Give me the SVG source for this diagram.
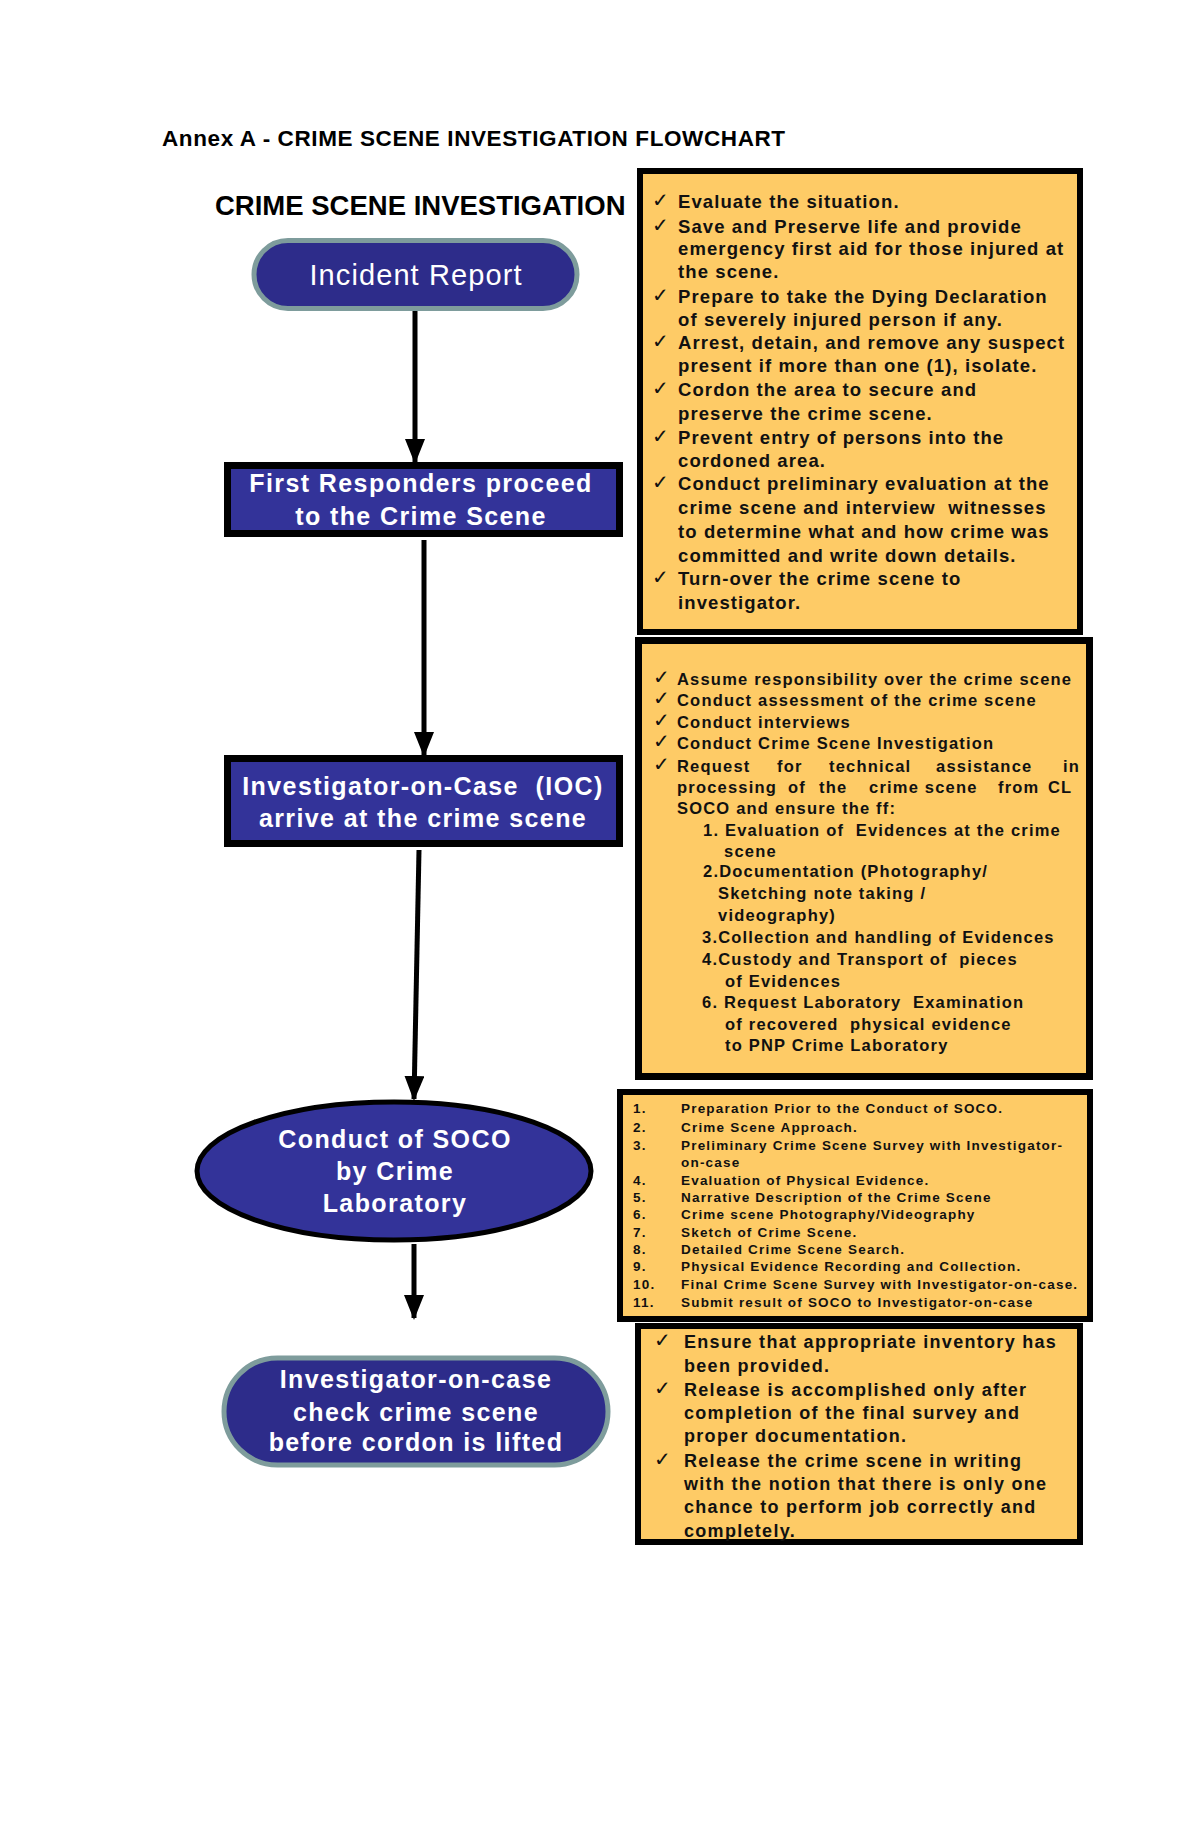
<svg xmlns="http://www.w3.org/2000/svg" width="1200" height="1835" viewBox="0 0 1200 1835">
<style>
.title{font-family:"Liberation Sans",Arial,sans-serif;font-weight:bold;fill:#000}
.note{fill:#FECB66;stroke:#000}
.t1{font-family:"Liberation Sans",Arial,sans-serif;font-weight:bold;font-size:18.5px;letter-spacing:1.1px;fill:#111}
.t2{font-family:"Liberation Sans",Arial,sans-serif;font-weight:bold;font-size:16.5px;letter-spacing:1.2px;fill:#111}
.t3{font-family:"Liberation Sans",Arial,sans-serif;font-weight:bold;font-size:13.5px;letter-spacing:1.2px;fill:#111}
.t4{font-family:"Liberation Sans",Arial,sans-serif;font-weight:bold;font-size:18px;letter-spacing:1.3px;fill:#111}
.ck{font-family:"DejaVu Sans",sans-serif;font-size:20px;fill:#111}
.nodeTxt{font-family:"Liberation Sans",Arial,sans-serif;font-weight:bold;font-size:25px;letter-spacing:1.4px;fill:#fff;text-anchor:middle}
.pill{fill:#2D2C8A;stroke:#7E9C9C;stroke-width:5}
.box{fill:#333399;stroke:#000;stroke-width:7}
.conn{stroke:#000;stroke-width:5;fill:none}
</style>
<defs>
<marker id="arr" markerWidth="5" markerHeight="4" refX="4.6" refY="2" orient="auto" markerUnits="strokeWidth">
<path d="M0,0 L5,2 L0,4 Z" fill="#000"/>
</marker>
</defs>
<rect width="1200" height="1835" fill="#fff"/>

<g id="header">
<text class="title" x="162" y="146" font-size="22.5" letter-spacing="0.6">Annex A - CRIME SCENE INVESTIGATION FLOWCHART</text>
<text class="title" x="215" y="215" font-size="27.5">CRIME SCENE INVESTIGATION</text>
</g>

<g id="connectors">
<line class="conn" x1="415" y1="311" x2="415" y2="462" marker-end="url(#arr)"/>
<line class="conn" x1="424" y1="540" x2="424" y2="755" marker-end="url(#arr)"/>
<line class="conn" x1="419" y1="850" x2="414" y2="1099" marker-end="url(#arr)"/>
<line class="conn" x1="414" y1="1244" x2="414" y2="1318" marker-end="url(#arr)"/>
</g>

<g id="incident-report">
<rect class="pill" x="254" y="240.5" width="323" height="68" rx="34"/>
<text x="416" y="285" font-family="Liberation Sans, Arial, sans-serif" font-size="29" letter-spacing="1.1" fill="#fff" text-anchor="middle">Incident Report</text>
</g>

<g id="first-responders">
<rect class="box" x="227.5" y="465.5" width="392" height="68"/>
<text class="nodeTxt" x="421" y="492">First Responders proceed</text>
<text class="nodeTxt" x="421" y="525">to the Crime Scene</text>
</g>

<g id="ioc">
<rect class="box" x="227.5" y="758.5" width="392" height="85"/>
<text class="nodeTxt" x="423" y="795" xml:space="preserve">Investigator-on-Case  (IOC)</text>
<text class="nodeTxt" x="423" y="827">arrive at the crime scene</text>
</g>

<g id="soco">
<ellipse cx="394" cy="1171" rx="197" ry="69" fill="#333399" stroke="#000" stroke-width="5"/>
<text class="nodeTxt" x="395" y="1148">Conduct of SOCO</text>
<text class="nodeTxt" x="395" y="1180">by Crime</text>
<text class="nodeTxt" x="395" y="1212">Laboratory</text>
</g>

<g id="ioc-check">
<rect class="pill" x="224" y="1358" width="384" height="107" rx="53.5"/>
<text class="nodeTxt" x="416" y="1388">Investigator-on-case</text>
<text class="nodeTxt" x="416" y="1421">check crime scene</text>
<text class="nodeTxt" x="416" y="1451">before cordon is lifted</text>
</g>

<g id="note-first-responders">
<rect class="note" x="640" y="171" width="440" height="461" stroke-width="6"/>
<g class="ck">
<text x="652" y="207">✓</text><text x="652" y="232">✓</text><text x="652" y="302">✓</text><text x="652" y="348">✓</text><text x="652" y="395">✓</text><text x="652" y="443">✓</text><text x="652" y="489">✓</text><text x="652" y="584">✓</text>
</g>
<g class="t1">
<text x="678" y="208">Evaluate the situation.</text>
<text x="678" y="233">Save and Preserve life and provide</text>
<text x="678" y="255">emergency first aid for those injured at</text>
<text x="678" y="278">the scene.</text>
<text x="678" y="303">Prepare to take the Dying Declaration</text>
<text x="678" y="326">of severely injured person if any.</text>
<text x="678" y="349">Arrest, detain, and remove any suspect</text>
<text x="678" y="372">present if more than one (1), isolate.</text>
<text x="678" y="396">Cordon the area to secure and</text>
<text x="678" y="420">preserve the crime scene.</text>
<text x="678" y="444">Prevent entry of persons into the</text>
<text x="678" y="467">cordoned area.</text>
<text x="678" y="490">Conduct preliminary evaluation at the</text>
<text x="678" y="514" xml:space="preserve">crime scene and interview  witnesses</text>
<text x="678" y="538">to determine what and how crime was</text>
<text x="678" y="562">committed and write down details.</text>
<text x="678" y="585">Turn-over the crime scene to</text>
<text x="678" y="609">investigator.</text>
</g>
</g>

<g id="note-ioc">
<rect class="note" x="638.5" y="640.5" width="451" height="436" stroke-width="7"/>
<g class="ck">
<text x="653" y="684">✓</text><text x="653" y="705">✓</text><text x="653" y="727">✓</text><text x="653" y="748">✓</text><text x="653" y="771">✓</text>
</g>
<g class="t2">
<text x="677" y="685">Assume responsibility over the crime scene</text>
<text x="677" y="706">Conduct assessment of the crime scene</text>
<text x="677" y="728">Conduct interviews</text>
<text x="677" y="749">Conduct Crime Scene Investigation</text>
<text y="772"><tspan x="677">Request</tspan><tspan x="777">for</tspan><tspan x="829">technical</tspan><tspan x="936">assistance</tspan><tspan x="1063">in</tspan></text>
<text y="793"><tspan x="677">processing</tspan><tspan x="788">of</tspan><tspan x="819">the</tspan><tspan x="869">crime scene</tspan><tspan x="998">from</tspan><tspan x="1048">CL</tspan></text>
<text x="677" y="814">SOCO and ensure the ff:</text>
<text x="703" y="836" xml:space="preserve">1. Evaluation of  Evidences at the crime</text>
<text x="724" y="857">scene</text>
<text x="703" y="877">2.Documentation (Photography/</text>
<text x="718" y="899">Sketching note taking /</text>
<text x="718" y="921">videography)</text>
<text x="702" y="943">3.Collection and handling of Evidences</text>
<text x="702" y="965" xml:space="preserve">4.Custody and Transport of  pieces</text>
<text x="725" y="987">of Evidences</text>
<text x="702" y="1008" xml:space="preserve">6. Request Laboratory  Examination</text>
<text x="725" y="1030" xml:space="preserve">of recovered  physical evidence</text>
<text x="725" y="1051">to PNP Crime Laboratory</text>
</g>
</g>

<g id="note-soco">
<rect class="note" x="620" y="1092" width="470" height="227" stroke-width="6"/>
<g class="t3">
<text x="633" y="1113">1.</text><text x="681" y="1113">Preparation Prior to the Conduct of SOCO.</text>
<text x="633" y="1132">2.</text><text x="681" y="1132">Crime Scene Approach.</text>
<text x="633" y="1150">3.</text><text x="681" y="1150">Preliminary Crime Scene Survey with Investigator-</text>
<text x="681" y="1167">on-case</text>
<text x="633" y="1185">4.</text><text x="681" y="1185">Evaluation of Physical Evidence.</text>
<text x="633" y="1202">5.</text><text x="681" y="1202">Narrative Description of the Crime Scene</text>
<text x="633" y="1219">6.</text><text x="681" y="1219">Crime scene Photography/Videography</text>
<text x="633" y="1237">7.</text><text x="681" y="1237">Sketch of Crime Scene.</text>
<text x="633" y="1254">8.</text><text x="681" y="1254">Detailed Crime Scene Search.</text>
<text x="633" y="1271">9.</text><text x="681" y="1271">Physical Evidence Recording and Collection.</text>
<text x="633" y="1289">10.</text><text x="681" y="1289">Final Crime Scene Survey with Investigator-on-case.</text>
<text x="633" y="1307">11.</text><text x="681" y="1307">Submit result of SOCO to Investigator-on-case</text>
</g>
</g>

<g id="note-release">
<rect class="note" x="638" y="1326" width="442" height="216" stroke-width="6"/>
<g class="ck">
<text x="654" y="1347">✓</text><text x="654" y="1395">✓</text><text x="654" y="1466">✓</text>
</g>
<g class="t4">
<text x="684" y="1348">Ensure that appropriate inventory has</text>
<text x="684" y="1372">been provided.</text>
<text x="684" y="1396">Release is accomplished only after</text>
<text x="684" y="1419">completion of the final survey and</text>
<text x="684" y="1442">proper documentation.</text>
<text x="684" y="1467">Release the crime scene in writing</text>
<text x="684" y="1490">with the notion that there is only one</text>
<text x="684" y="1513">chance to perform job correctly and</text>
<text x="684" y="1537">completely.</text>
</g>
</g>
</svg>
